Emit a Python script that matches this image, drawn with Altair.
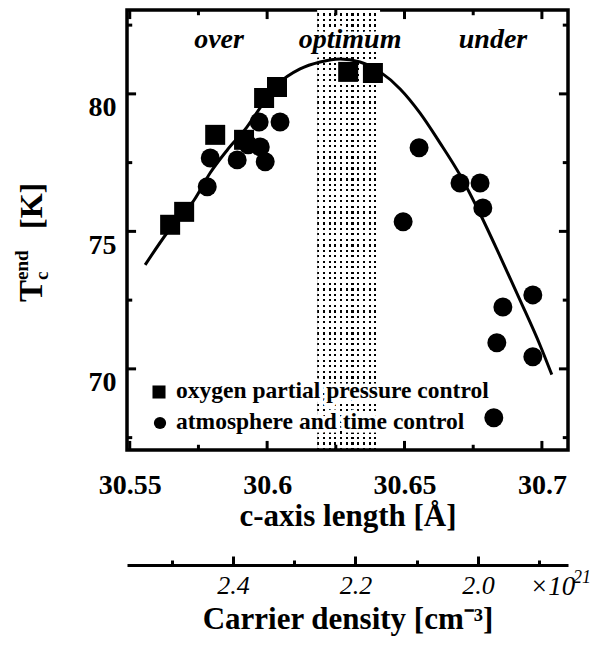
import altair as alt
import pandas as pd

# ---------------- data ----------------
sq_c = [30.5647, 30.5698, 30.5811, 30.5916, 30.5989, 30.6036, 30.6295, 30.6385]
sq_tc = [75.24, 75.71, 78.51, 78.33, 79.85, 80.25, 80.80, 80.76]

ci_c = [30.5782, 30.5793, 30.5891, 30.5931, 30.5975, 30.5993, 30.5971, 30.6047,
        30.6495, 30.6553, 30.6702, 30.6775, 30.6785, 30.6967, 30.6858, 30.6836,
        30.6967, 30.6825]
ci_tc = [76.62, 77.67, 77.60, 78.15, 78.07, 77.53, 78.98, 78.98,
         75.35, 78.04, 76.76, 76.76, 75.85, 72.69, 72.25, 70.95,
         70.44, 68.22]

fit_c = [30.5556, 30.5636, 30.5735, 30.5793, 30.5855, 30.5927, 30.5982, 30.6040,
         30.6120, 30.6193, 30.6265, 30.6338, 30.6411, 30.6484, 30.6556, 30.6629,
         30.6702, 30.6775, 30.6847, 30.6920, 30.6993, 30.7036]
fit_tc = [73.78, 74.95, 76.15, 77.13, 77.96, 78.80, 79.60, 80.36,
          80.91, 81.16, 81.27, 81.16, 80.80, 80.18, 79.31, 78.22,
          77.05, 75.64, 74.11, 72.51, 70.87, 69.79]

x_major = [30.55, 30.6, 30.65, 30.7]
x_minor = [30.575, 30.625, 30.675]
y_major = [70, 75, 80]
y_minor = [67.5, 72.5, 77.5, 82.5]
n_major = [2.4, 2.2, 2.0]
n_minor = [2.5, 2.3, 2.1, 1.9]

regions = ["over", "optimum", "under"]
region_c = [30.5825, 30.6302, 30.6822]
REGION_TC = 81.67
OPT_LO, OPT_HI = 30.6182, 30.6411

legend_labels = ["oxygen partial pressure control", "atmosphere and time control"]

# ---------------- layout / style ----------------
X_DOM = [30.549, 30.7095]
Y_DOM = [67.05, 83.05]
N_DOM = [2.573, 1.853]
W, H = 441, 440
FONT = "Liberation Serif"

xs = alt.Scale(domain=X_DOM, nice=False, zero=False)
ys = alt.Scale(domain=Y_DOM, nice=False, zero=False)
ns = alt.Scale(domain=N_DOM, nice=False, zero=False)

x_axis = alt.Axis(values=x_major, format=".2~f", ticks=False, tickSize=0, domain=False, grid=False,
                  labelFont=FONT, labelFontSize=28, labelFontWeight="bold", labelColor="black",
                  labelPadding=21, labelFlush=False, labelOverlap=False, labelBound=False,
                  title="c-axis length [Å]", titleFont=FONT, titleFontSize=31,
                  titleFontWeight="bold", titleColor="black", titlePadding=2)
y_axis = alt.Axis(values=y_major, format="d", ticks=False, tickSize=0, domain=False, grid=False,
                  labelFont=FONT, labelFontSize=28, labelFontWeight="bold", labelColor="black",
                  labelPadding=11, labelFlush=False, labelOverlap=False, labelBaseline="top",
                  labelOffset=0, title=None)


def X(f):
    return alt.X(f, type="quantitative", scale=xs, axis=x_axis)


def Y(f):
    return alt.Y(f, type="quantitative", scale=ys, axis=y_axis)


# stipple texture for the optimum band (two crossed stripe gradients)
def stripes(n, frac, on, off, vertical):
    stops = []
    for i in range(n):
        a = i / n
        b = (i + frac) / n
        c = (i + 1) / n
        stops += [alt.GradientStop(color=on, offset=round(a, 5)),
                  alt.GradientStop(color=on, offset=round(b, 5)),
                  alt.GradientStop(color=off, offset=round(b, 5)),
                  alt.GradientStop(color=off, offset=round(c, 5))]
    if vertical:
        return alt.LinearGradient(gradient="linear", stops=stops, x1=0, x2=1, y1=0, y2=0)
    return alt.LinearGradient(gradient="linear", stops=stops, x1=0, x2=0, y1=0, y2=1)


band_df = pd.DataFrame({"c1": [OPT_LO], "c2": [OPT_HI], "t1": [Y_DOM[0]], "t2": [Y_DOM[1]]})
band_cols = alt.Chart(band_df).mark_rect(
    fill=stripes(11, 0.36, "black", "rgba(0,0,0,0)", True)).encode(
    x=X("c1"), x2="c2", y=Y("t1"), y2="t2")
band_rows = alt.Chart(band_df).mark_rect(
    fill=stripes(80, 0.62, "white", "rgba(255,255,255,0)", False)).encode(
    x=X("c1"), x2="c2", y=Y("t1"), y2="t2")

fit = alt.Chart(pd.DataFrame({"c": fit_c, "tc": fit_tc})).mark_line(
    color="black", strokeWidth=3, interpolate="monotone").encode(x=X("c"), y=Y("tc"))

squares = alt.Chart(pd.DataFrame({"c": sq_c, "tc": sq_tc})).mark_square(
    size=400, color="black", opacity=1).encode(x=X("c"), y=Y("tc"))
circles = alt.Chart(pd.DataFrame({"c": ci_c, "tc": ci_tc})).mark_circle(
    size=360, color="black", opacity=1).encode(x=X("c"), y=Y("tc"))

# inward ticks on all four sides
TL_Y = {"major": 0.33, "minor": 0.19}
TL_X = {"major": 0.0033, "minor": 0.0019}
vt = []
for kind, vals in (("major", x_major), ("minor", x_minor)):
    for v in vals:
        vt.append({"c": v, "t1": Y_DOM[0], "t2": Y_DOM[0] + TL_Y[kind]})
        vt.append({"c": v, "t1": Y_DOM[1] - TL_Y[kind], "t2": Y_DOM[1]})
ht = []
for kind, vals in (("major", y_major), ("minor", y_minor)):
    for v in vals:
        ht.append({"tc": v, "c1": X_DOM[0], "c2": X_DOM[0] + TL_X[kind]})
        ht.append({"tc": v, "c1": X_DOM[1] - TL_X[kind], "c2": X_DOM[1]})
vticks = alt.Chart(pd.DataFrame(vt)).mark_rule(color="black", strokeWidth=3).encode(
    x=X("c"), y=Y("t1"), y2="t2")
hticks = alt.Chart(pd.DataFrame(ht)).mark_rule(color="black", strokeWidth=3).encode(
    y=Y("tc"), x=X("c1"), x2="c2")

reg_df = pd.DataFrame({"c": region_c, "tc": [REGION_TC] * 3, "label": regions})
reg_halo = alt.Chart(reg_df).mark_text(
    font=FONT, fontSize=28, fontWeight="bold", fontStyle="italic", baseline="alphabetic",
    fill="white", stroke="white", strokeWidth=7, strokeJoin="round").encode(
    x=X("c"), y=Y("tc"), text="label:N")
reg_text = alt.Chart(reg_df).mark_text(
    font=FONT, fontSize=28, fontWeight="bold", fontStyle="italic", baseline="alphabetic",
    color="black").encode(x=X("c"), y=Y("tc"), text="label:N")

one = pd.DataFrame({"k": [0]})


def ptext(txt, x, y, size, weight="bold", style="normal", angle=0, halo=False, align="left"):
    kw = dict(text=txt, font=FONT, fontSize=size, fontWeight=weight, fontStyle=style,
              align=align, baseline="alphabetic", angle=angle)
    if halo:
        kw.update(fill="white", stroke="white", strokeWidth=7, strokeJoin="round")
    else:
        kw.update(color="black")
    return alt.Chart(one).mark_text(**kw).encode(x=alt.value(x), y=alt.value(y))


leg_sq = alt.Chart(one).mark_square(size=170, color="black", opacity=1).encode(
    x=alt.value(32), y=alt.value(382))
leg_ci = alt.Chart(one).mark_circle(size=150, color="black", opacity=1).encode(
    x=alt.value(33), y=alt.value(413))
leg = [leg_sq, leg_ci,
       ptext(legend_labels[0], 49, 388, 23.5, halo=True),
       ptext(legend_labels[1], 49, 419, 23.5, halo=True),
       ptext(legend_labels[0], 49, 388, 23.5),
       ptext(legend_labels[1], 49, 419, 23.5)]

ytitle = [ptext("T", -85, 292, 33, angle=270),
          ptext("c", -79, 270, 19, angle=270),
          ptext("end", -99, 270, 19, angle=270),
          ptext("[K]", -85, 219, 32, angle=270)]

x10 = [ptext("×10", 403, 585, 27, weight="normal", style="italic"),
       ptext("21", 446, 573, 18, weight="normal", style="italic")]

main = alt.layer(band_cols, band_rows, fit, squares, circles, vticks, hticks,
                 reg_halo, reg_text, *leg, *ytitle, *x10)

# ---------------- carrier-density axis ----------------
car_major = alt.Chart(pd.DataFrame({"n": n_major})).mark_point(opacity=0).encode(
    x=alt.X("n:Q", scale=ns, axis=alt.Axis(
        orient="top", offset=-555, values=n_major, labels=False, tickSize=9, tickWidth=3,
        tickColor="black", domainWidth=3, domainColor="black", grid=False, title=None)))
car_minor = alt.Chart(pd.DataFrame({"n": n_minor})).mark_point(opacity=0).encode(
    x=alt.X("n:Q", scale=ns, axis=alt.Axis(
        orient="top", offset=-555, values=n_minor, labels=False, tickSize=5, tickWidth=3,
        tickColor="black", domain=False, grid=False, title=None)))
car_labels = alt.Chart(pd.DataFrame({"n": n_major})).mark_point(opacity=0).encode(
    x=alt.X("n:Q", scale=ns, axis=alt.Axis(
        orient="bottom", offset=115, values=n_major, format=".1f", ticks=False, tickSize=0,
        domain=False, grid=False, labelFont=FONT, labelFontSize=26, labelFontStyle="italic",
        labelColor="black", labelPadding=7, labelFlush=False, labelOverlap=False,
        title="Carrier density [cm⁻³]", titleFont=FONT, titleFontSize=31,
        titleFontWeight="bold", titleColor="black", titlePadding=6)))

chart = alt.layer(main, car_major, car_minor, car_labels).resolve_scale(
    x="independent"
).properties(
    width=W, height=H,
    padding={"left": 127, "top": 10, "right": 24, "bottom": 199},
    autosize=alt.AutoSizeParams(type="none"),
    background="white",
).configure_view(stroke="black", strokeWidth=3.5)

chart.save("out.html", embed_options={"renderer": "svg", "actions": False})
